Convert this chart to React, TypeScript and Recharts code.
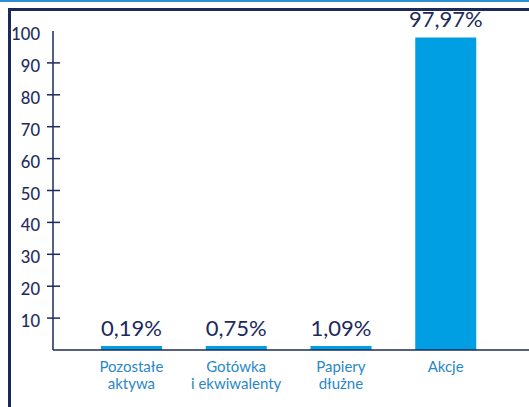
import React from "react";
import { BarChart, Bar, XAxis, YAxis, LabelList } from "recharts";

const categories = ["Pozostałe\naktywa", "Gotówka\ni ekwiwalenty", "Papiery\ndłużne", "Akcje"];
const values = [0.19, 0.75, 1.09, 97.97];
const labels = ["0,19%", "0,75%", "1,09%", "97,97%"];
const yTicks = [10, 20, 30, 40, 50, 60, 70, 80, 90, 100];

const data = categories.map((c, i) => ({ name: c, value: values[i], label: labels[i] }));

const NAVY = "#1b2a5a";
const BAR = "#009fe3";
const TEXT_BLUE = "#2a87c8";
const FONT = "Lato, 'Open Sans', sans-serif";

const YTick = (props: any) => {
  const { x, y, payload } = props;
  return (
    <g>
      {payload.value !== 100 && (
        <line x1={x - 6} x2={x + 7} y1={y} y2={y} stroke={NAVY} strokeWidth={1.5} />
      )}
      <text x={x - 13} y={y + 9} textAnchor="end" fill={NAVY} stroke={NAVY} strokeWidth={0.15} fontSize={16.5} fontFamily={FONT}>
        {payload.value}
      </text>
    </g>
  );
};

const XTick = (props: any) => {
  const { x, y, payload } = props;
  const lines = String(payload.value).split("\n");
  return (
    <text x={x} y={y} textAnchor="middle" fill={TEXT_BLUE} fontSize={15} fontFamily={FONT}>
      {lines.map((l, i) => (
        <tspan key={i} x={x} dy={i === 0 ? 22 : 16.5}>
          {l}
        </tspan>
      ))}
    </text>
  );
};

export default function App() {
  return (
    <div style={{ position: "fixed", left: 0, top: 0, width: 529, height: 407, background: "#fff", overflow: "hidden" }}>
      <div style={{ position: "absolute", left: 0, top: 0, width: 529, height: 2, background: "#2f8fd6" }} />
      <div style={{ position: "absolute", left: 7.5, top: 7.5, width: 529, height: 3, background: NAVY }} />
      <div style={{ position: "absolute", left: 7.5, top: 7.5, width: 3, height: 407, background: NAVY }} />
      <div style={{ position: "absolute", left: 0, top: 0 }}>
        <BarChart width={529} height={407} data={data} margin={{ top: 31, right: 0, bottom: 0, left: 0 }}>
          <XAxis
            dataKey="name"
            height={57}
            padding={{ left: 26, right: 31 }}
            tickSize={0}
            tickMargin={0}
            tick={<XTick />}
            interval={0}
            axisLine={{ stroke: NAVY, strokeWidth: 1.5 }}
            tickLine={false}
          />
          <YAxis
            width={53}
            domain={[0, 100]}
            ticks={yTicks}
            tickSize={0}
            tickMargin={0}
            tick={<YTick />}
            axisLine={{ stroke: NAVY, strokeWidth: 1.5 }}
            tickLine={false}
            interval={0}
          />
          <Bar dataKey="value" fill={BAR} barSize={61} minPointSize={4} isAnimationActive={false}>
            <LabelList dataKey="label" position="top" offset={10} fill={NAVY} fontSize={22} fontFamily={FONT} />
          </Bar>
        </BarChart>
      </div>
    </div>
  );
}
